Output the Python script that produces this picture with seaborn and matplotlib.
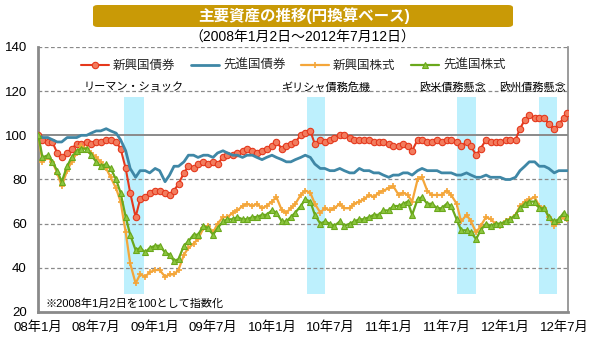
import matplotlib
matplotlib.use("Agg")
import matplotlib.pyplot as plt
import pandas as pd
import seaborn as sns
from matplotlib.patches import FancyBboxPatch

# ---------------- data (semi-monthly) ----------------
dates = (["2008-01-02", "2008-01-15"]
         + [f"{y}-{m:02d}-{d:02d}" for y in range(2008, 2013) for m in range(1, 13) for d in (1, 15)
            if (2008, 1) < (y, m) <= (2012, 6)]
         + ["2012-07-01", "2012-07-12"])

series_names = ["新興国債券", "先進国債券", "新興国株式", "先進国株式"]

em_bond = [100, 98, 97, 97, 92, 90, 92, 94, 96, 96, 97, 96, 97, 97, 98, 98, 97, 94, 85, 74, 63, 71, 72, 74,
           75, 75, 74, 73, 75, 78, 83, 86, 85, 87, 88, 87, 88, 87, 90, 91, 91, 92, 93, 94, 93, 92, 93, 94,
           95, 97, 94, 95, 96, 97, 100, 101, 102, 96, 98, 97, 98, 99, 100, 100, 99, 98, 98, 98, 98, 97, 97, 97,
           96, 95, 95, 96, 95, 93, 98, 98, 97, 97, 98, 97, 98, 98, 97, 95, 97, 95, 91, 94, 98, 97, 97, 97,
           98, 98, 98, 103, 107, 109, 108, 108, 108, 105, 103, 105, 108, 110]

dm_bond = [100, 99, 99, 98, 97, 97, 99, 99, 99, 100, 100, 101, 102, 102, 103, 102, 101, 98, 93, 85, 81, 84, 84, 83,
           85, 84, 79, 82, 86, 86, 88, 91, 91, 90, 91, 91, 90, 92, 93, 92, 91, 91, 90, 91, 91, 90, 89, 90,
           91, 90, 89, 88, 88, 89, 90, 91, 90, 87, 85, 85, 84, 84, 85, 84, 83, 83, 85, 84, 84, 83, 83, 82,
           81, 82, 82, 83, 83, 82, 84, 85, 84, 84, 84, 83, 83, 83, 82, 82, 83, 82, 81, 81, 82, 81, 81, 81,
           80, 80, 81, 84, 86, 88, 88, 86, 86, 85, 83, 84, 84, 84]

em_equity = [100, 88, 90, 88, 83, 77, 84, 88, 92, 95, 94, 92, 90, 88, 85, 81, 76, 70, 56, 42, 33, 37, 36, 38,
             39, 39, 36, 37, 37, 39, 46, 49, 51, 53, 58, 59, 56, 60, 63, 63, 65, 66, 68, 69, 68, 69, 67, 68,
             70, 72, 66, 65, 67, 69, 73, 75, 74, 69, 65, 67, 66, 67, 69, 67, 67, 69, 70, 71, 73, 72, 74, 75,
             76, 77, 73, 74, 73, 70, 80, 81, 75, 73, 73, 73, 75, 73, 69, 61, 64, 61, 56, 59, 63, 62, 60, 59,
             61, 62, 64, 68, 70, 71, 72, 68, 67, 63, 59, 61, 63, 62]

dm_equity = [100, 90, 91, 88, 84, 79, 86, 90, 93, 94, 94, 91, 88, 86, 87, 85, 80, 74, 63, 55, 48, 49, 47, 49,
             50, 50, 47, 46, 43, 44, 50, 52, 55, 55, 59, 58, 55, 58, 61, 62, 62, 63, 62, 62, 63, 63, 64, 64,
             66, 65, 61, 61, 63, 65, 68, 71, 70, 64, 60, 61, 60, 59, 61, 59, 60, 61, 62, 62, 63, 64, 64, 66,
             66, 68, 68, 69, 70, 64, 71, 72, 69, 69, 67, 67, 69, 68, 62, 57, 57, 56, 53, 57, 60, 59, 60, 60,
             61, 62, 64, 67, 69, 70, 70, 67, 67, 63, 61, 62, 65, 63]

event_labels = ["リーマン・ショック", "ギリシャ債務危機", "欧米債務懸念", "欧州債務懸念"]
event_starts = ["2008-09-26", "2010-04-20", "2011-08-02", "2012-04-14"]
event_ends = ["2008-11-27", "2010-06-16", "2011-09-30", "2012-06-09"]
event_label_pos = ["2008-10-27", "2010-06-16", "2011-07-19", "2012-03-26"]

xtick_dates = ["2008-01-01", "2008-07-01", "2009-01-01", "2009-07-01", "2010-01-01",
               "2010-07-01", "2011-01-01", "2011-07-01", "2012-01-01", "2012-07-01"]
xtick_labels = ["08年1月", "08年7月", "09年1月", "09年7月", "10年1月",
                "10年7月", "11年1月", "11年7月", "12年1月", "12年7月"]

# ---------------- styling ----------------
sns.set_theme(style="white")
plt.rcParams["font.family"] = ["Liberation Sans", "Noto Sans CJK JP", "DejaVu Sans"]

dt = pd.to_datetime(dates)
df = pd.DataFrame({"date": dt, series_names[0]: em_bond, series_names[1]: dm_bond,
                   series_names[2]: em_equity, series_names[3]: dm_equity})

fig = plt.figure(figsize=(5.9, 3.4), dpi=100)
ax = fig.add_axes([38 / 590, 1 - 312 / 340, 530 / 590, 265 / 340])

# event bands
for s, e in zip(event_starts, event_ends):
    ax.axvspan(pd.Timestamp(s), pd.Timestamp(e), ymin=(28.3 - 20) / 120, ymax=(117.4 - 20) / 120,
               color="#bdf0fd", lw=0, zorder=0)

# grid
for v in [40, 60, 80, 120, 140]:
    ax.axhline(v, color="#8a8a8a", lw=0.9, ls=(0, (3, 2)), zorder=1)
ax.axhline(100, color="#8a8a8a", lw=1.4, zorder=1)

styles = [
    dict(color="#e5381c", lw=1.5, marker="o", markersize=4.6, markerfacecolor="#f27c5e",
         markeredgecolor="#e5381c", markeredgewidth=0.8),
    dict(color="#3f87a6", lw=2.0),
    dict(color="#f4a63a", lw=1.6, marker="+", markersize=5, markerfacecolor="#f4a63a",
         markeredgecolor="#f4a63a", markeredgewidth=1.2),
    dict(color="#6aa81c", lw=1.6, marker="^", markersize=4.6, markerfacecolor="#8cc63f",
         markeredgecolor="#6aa81c", markeredgewidth=0.8),
]
for i, (name, st) in enumerate(zip(series_names, styles)):
    sns.lineplot(data=df, x="date", y=name, ax=ax, label=name, zorder=3 + i, **st)

ax.set_ylim(20, 140)
ax.set_yticks(range(20, 141, 20))
ax.set_xlim(pd.Timestamp("2008-01-01"), pd.Timestamp("2012-07-14"))
ax.set_xticks(pd.to_datetime(xtick_dates))
ax.set_xticklabels(xtick_labels)
ax.set_xlabel("")
ax.set_ylabel("")
ax.tick_params(axis="y", length=0, pad=8, labelsize=9.5, labelcolor="black")
ax.tick_params(axis="x", direction="in", length=3, width=1, color="#8a8a8a", pad=7,
               labelsize=9.5, labelcolor="black")

for side in ["left", "bottom"]:
    ax.spines[side].set_color("#8a8a8a")
    ax.spines[side].set_linewidth(2)
ax.spines["right"].set_color("#8a8a8a")
ax.spines["right"].set_linewidth(1.2)
ax.spines["top"].set_visible(False)

# legend
handles, labels = ax.get_legend_handles_labels()
if ax.get_legend() is not None:
    ax.get_legend().remove()
fig.legend(handles, labels, loc="center", bbox_to_anchor=(293 / 590, 1 - 66 / 340), ncol=4,
           frameon=False, fontsize=9, handlelength=2.3, handletextpad=0.3, columnspacing=1.2,
           numpoints=1)

# event labels
for lab, pos in zip(event_labels, event_label_pos):
    ax.text(pd.Timestamp(pos), 121.8, lab, ha="center", va="center", fontsize=8, color="black", zorder=6)

ax.text(pd.Timestamp("2008-01-23"), 23.6, "※2008年1月2日を100として指数化", ha="left", va="center",
        fontsize=8, color="black", zorder=6)

# title banner
banner = FancyBboxPatch((93 / 590, 1 - 27 / 340), 420 / 590, 22 / 340,
                        boxstyle="round,pad=0,rounding_size=0.008", transform=fig.transFigure,
                        facecolor="#c99a06", edgecolor="none")
fig.patches.append(banner)
fig.text(304 / 590, 1 - 16 / 340, "主要資産の推移(円換算ベース)", ha="center", va="center",
         fontsize=11.2, fontweight="bold", color="white")
fig.text(302 / 590, 1 - 38 / 340, "（2008年1月2日～2012年7月12日）", ha="center", va="center",
         fontsize=10, color="black")

fig.savefig("out.png", dpi=100)
